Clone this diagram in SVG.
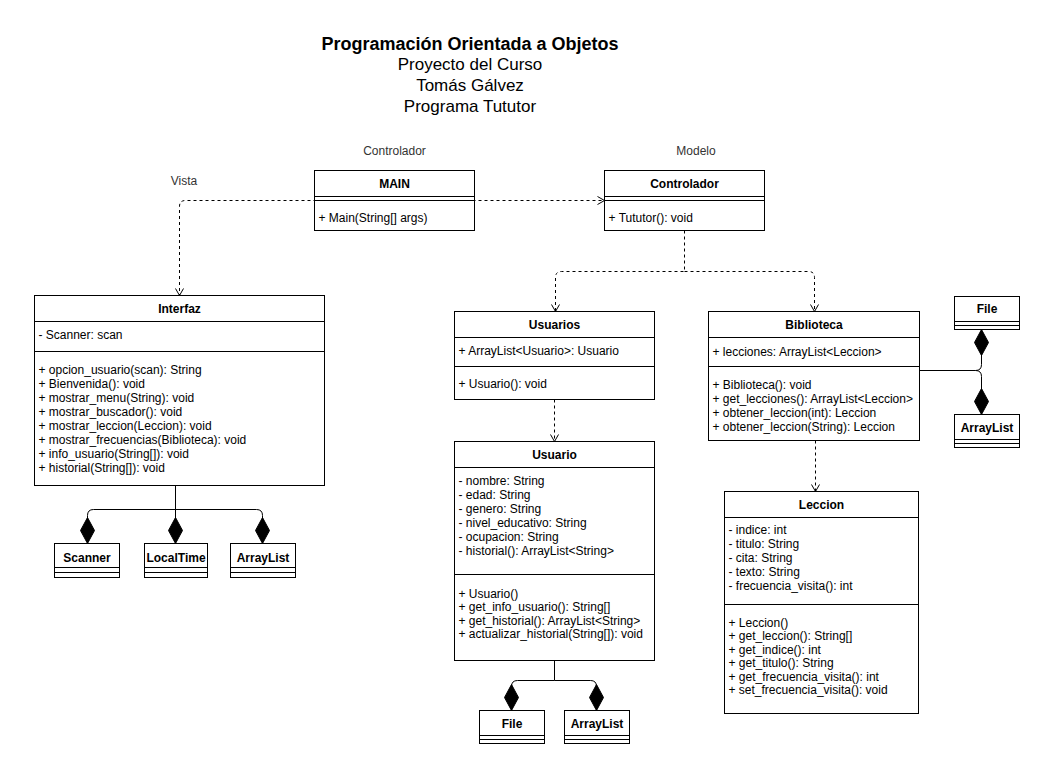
<svg xmlns="http://www.w3.org/2000/svg" width="1049" height="777" viewBox="0 0 1049 777">
<style>
text{font-family:"Liberation Sans",Arial,Helvetica,sans-serif;fill:#000}
.t{font-size:12px}
.n{font-size:12px;font-weight:bold;text-anchor:middle}
.lbl{font-size:12px;text-anchor:middle;fill:#333}
.box{fill:#fff;stroke:#000;stroke-width:1}
.ln{stroke:#000;stroke-width:1;fill:none}
.dep{fill:none;stroke:#000;stroke-width:1;stroke-dasharray:3 3;marker-end:url(#open)}
.comp{fill:none;stroke:#000;stroke-width:1;marker-end:url(#dia)}
</style>
<defs>
<marker id="open" markerUnits="userSpaceOnUse" markerWidth="16" markerHeight="16" viewBox="-10 -8 12 16" refX="0" refY="0" orient="auto" overflow="visible">
<path d="M-7,-4 L0,0 L-7,4" fill="none" stroke="#000" stroke-width="1" stroke-dasharray="none"/>
</marker>
<marker id="dia" markerUnits="userSpaceOnUse" markerWidth="30" markerHeight="16" viewBox="-28 -8 30 16" refX="0" refY="0" orient="auto" overflow="visible">
<path d="M0,0 L-13,-7 L-26,0 L-13,7 Z" fill="#000" stroke="#000" stroke-width="1"/>
</marker>
</defs>
<rect width="1049" height="777" fill="#fff"/>
<g id="title">
<text x="470" y="50" style="font-size:18px;font-weight:bold;text-anchor:middle">Programación Orientada a Objetos</text>
<text x="470" y="70" style="font-size:17px;text-anchor:middle">Proyecto del Curso</text>
<text x="470" y="91" style="font-size:17px;text-anchor:middle">Tomás Gálvez</text>
<text x="470" y="112" style="font-size:17px;text-anchor:middle">Programa Tututor</text>
</g>
<g id="labels">
<text class="lbl" x="394.5" y="155">Controlador</text>
<text class="lbl" x="696" y="155">Modelo</text>
<text class="lbl" x="184" y="185">Vista</text>
</g>
<g transform="translate(0.5,0.5)">
<g id="connectors">
<path class="dep" d="M394,200 H185 Q179,200 179,206 V295"/>
<path class="dep" d="M394,200 H604"/>
<path class="dep" d="M684,230 V271 H561 Q555,271 555,277 V311"/>
<path class="dep" d="M684,271 H808 Q814,271 814,277 V311"/>
<path class="dep" d="M554,399 V441"/>
<path class="dep" d="M815,440 V491"/>
<path class="comp" d="M175,485 V509 H93 Q87,509 87,515 V543"/>
<path class="comp" d="M175,485 V543"/>
<path class="comp" d="M175,509 H256 Q262,509 262,515 V543"/>
<path class="comp" d="M554,660 V680 H517 Q511,680 511,686 V710"/>
<path class="comp" d="M554,680 H590 Q596,680 596,686 V710"/>
<path class="comp" d="M919,370 H975 Q981,370 981,364 V329"/>
<path class="comp" d="M975,370 Q981,370 981,376 V414"/>
</g>
<g id="MAIN">
<rect class="box" x="314" y="170" width="160" height="60"/>
<path class="ln" d="M314,196 H474 M314,200 H474"/>
<text class="n" x="394" y="187">MAIN</text>
<text class="t" x="318" y="221">+ Main(String[] args)</text>
</g>
<g id="Controlador">
<rect class="box" x="604" y="170" width="160" height="60"/>
<path class="ln" d="M604,196 H764 M604,200 H764"/>
<text class="n" x="684" y="187">Controlador</text>
<text class="t" x="608" y="221">+ Tututor(): void</text>
</g>
<g id="Interfaz">
<rect class="box" x="34" y="295" width="290" height="190"/>
<path class="ln" d="M34,321 H324 M34,351 H324"/>
<text class="n" x="179" y="312">Interfaz</text>
<text class="t" x="38" y="338">- Scanner: scan</text>
<text class="t" x="38" y="373">+ opcion_usuario(scan): String</text>
<text class="t" x="38" y="387">+ Bienvenida(): void</text>
<text class="t" x="38" y="401">+ mostrar_menu(String): void</text>
<text class="t" x="38" y="415">+ mostrar_buscador(): void</text>
<text class="t" x="38" y="429">+ mostrar_leccion(Leccion): void</text>
<text class="t" x="38" y="443">+ mostrar_frecuencias(Biblioteca): void</text>
<text class="t" x="38" y="457">+ info_usuario(String[]): void</text>
<text class="t" x="38" y="471">+ historial(String[]): void</text>
</g>
<g id="Scanner">
<rect class="box" x="54" y="543" width="65" height="34"/>
<path class="ln" d="M54,567 H119 M54,572 H119"/>
<text class="n" x="86.5" y="561">Scanner</text>
</g>
<g id="LocalTime">
<rect class="box" x="144" y="543" width="63" height="34"/>
<path class="ln" d="M144,567 H207 M144,572 H207"/>
<text class="n" x="175.5" y="561">LocalTime</text>
</g>
<g id="ArrayList1">
<rect class="box" x="230" y="543" width="65" height="34"/>
<path class="ln" d="M230,567 H295 M230,572 H295"/>
<text class="n" x="262.5" y="561">ArrayList</text>
</g>
<g id="Usuarios">
<rect class="box" x="454" y="311" width="200" height="88"/>
<path class="ln" d="M454,337 H654 M454,366 H654"/>
<text class="n" x="554" y="328">Usuarios</text>
<text class="t" x="458" y="354">+ ArrayList&lt;Usuario&gt;: Usuario</text>
<text class="t" x="458" y="387">+ Usuario(): void</text>
</g>
<g id="Usuario">
<rect class="box" x="454" y="441" width="200" height="219"/>
<path class="ln" d="M454,467 H654 M454,574 H654"/>
<text class="n" x="554" y="458">Usuario</text>
<text class="t" x="458" y="484">- nombre: String</text>
<text class="t" x="458" y="498">- edad: String</text>
<text class="t" x="458" y="512">- genero: String</text>
<text class="t" x="458" y="526">- nivel_educativo: String</text>
<text class="t" x="458" y="540">- ocupacion: String</text>
<text class="t" x="458" y="554">- historial(): ArrayList&lt;String&gt;</text>
<text class="t" x="458" y="597">+ Usuario()</text>
<text class="t" x="458" y="610.5">+ get_info_usuario(): String[]</text>
<text class="t" x="458" y="624">+ get_historial(): ArrayList&lt;String&gt;</text>
<text class="t" x="458" y="637.5">+ actualizar_historial(String[]): void</text>
</g>
<g id="File1">
<rect class="box" x="479" y="710" width="65" height="33"/>
<path class="ln" d="M479,735 H544 M479,739 H544"/>
<text class="n" x="511.5" y="727">File</text>
</g>
<g id="ArrayList2">
<rect class="box" x="564" y="710" width="65" height="33"/>
<path class="ln" d="M564,735 H629 M564,739 H629"/>
<text class="n" x="596.5" y="727">ArrayList</text>
</g>
<g id="Biblioteca">
<rect class="box" x="708" y="311" width="211" height="129"/>
<path class="ln" d="M708,337 H919 M708,366 H919"/>
<text class="n" x="813.5" y="328">Biblioteca</text>
<text class="t" x="712" y="355">+ lecciones: ArrayList&lt;Leccion&gt;</text>
<text class="t" x="712" y="388">+ Biblioteca(): void</text>
<text class="t" x="712" y="402">+ get_lecciones(): ArrayList&lt;Leccion&gt;</text>
<text class="t" x="712" y="416">+ obtener_leccion(int): Leccion</text>
<text class="t" x="712" y="430">+ obtener_leccion(String): Leccion</text>
</g>
<g id="File2">
<rect class="box" x="954" y="296" width="65" height="33"/>
<path class="ln" d="M954,321 H1019 M954,325 H1019"/>
<text class="n" x="986.5" y="312">File</text>
</g>
<g id="ArrayList3">
<rect class="box" x="954" y="414" width="65" height="33"/>
<path class="ln" d="M954,439 H1019 M954,443 H1019"/>
<text class="n" x="986.5" y="431">ArrayList</text>
</g>
<g id="Leccion">
<rect class="box" x="724" y="491" width="194" height="222"/>
<path class="ln" d="M724,517 H918 M724,604 H918"/>
<text class="n" x="821" y="508">Leccion</text>
<text class="t" x="728" y="533">- indice: int</text>
<text class="t" x="728" y="547">- titulo: String</text>
<text class="t" x="728" y="561">- cita: String</text>
<text class="t" x="728" y="575">- texto: String</text>
<text class="t" x="728" y="589">- frecuencia_visita(): int</text>
<text class="t" x="728" y="626">+ Leccion()</text>
<text class="t" x="728" y="639.5">+ get_leccion(): String[]</text>
<text class="t" x="728" y="653">+ get_indice(): int</text>
<text class="t" x="728" y="666.5">+ get_titulo(): String</text>
<text class="t" x="728" y="680">+ get_frecuencia_visita(): int</text>
<text class="t" x="728" y="693.5">+ set_frecuencia_visita(): void</text>
</g>
</g>
</svg>
